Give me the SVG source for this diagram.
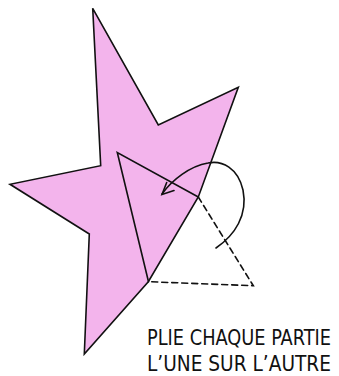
<svg xmlns="http://www.w3.org/2000/svg" width="339" height="376" viewBox="0 0 339 376">
<style>
.ln{fill:none;stroke:#111;stroke-width:1.6;stroke-linejoin:miter;stroke-linecap:round}
.dash{stroke-dasharray:6,4}
.lbl{font-family:"DejaVu Sans Condensed","DejaVu Sans","Liberation Sans",sans-serif;font-size:21px;fill:#111}
</style>
<rect width="339" height="376" fill="#ffffff"/>
<g id="star">
<path d="M92.7,8.3 L158.3,125 L238.3,87.3 L198.3,197 L148.3,281.7 L84.3,354 L89.3,234 L10,184.3 L100.7,165.7 Z" fill="#f3b4ec" stroke="#111" stroke-width="1.6"/>
</g>
<g id="fold-triangle">
<path class="ln" d="M198.3,197 L117.3,152.5 L148.5,281.7"/>
<path class="ln dash" d="M198.3,197 L253.3,285.7 L148.5,281.7"/>
</g>
<g id="connectors">
<path class="ln" d="M216,248 C235,235 248,215 243,190 C238,168 222,160 208,163 C190,166 172,180 162,194"/>
<path class="ln" d="M166.7,182.5 L162,194.5 L174,190.5"/>
</g>
<g id="caption" transform="scale(0.8,1)">
<text class="lbl" x="183.75" y="345" textLength="230" lengthAdjust="spacingAndGlyphs">PLIE CHAQUE PARTIE</text>
<text class="lbl" x="183.75" y="371" textLength="230" lengthAdjust="spacingAndGlyphs">L’UNE SUR L’AUTRE</text>
</g>
</svg>
